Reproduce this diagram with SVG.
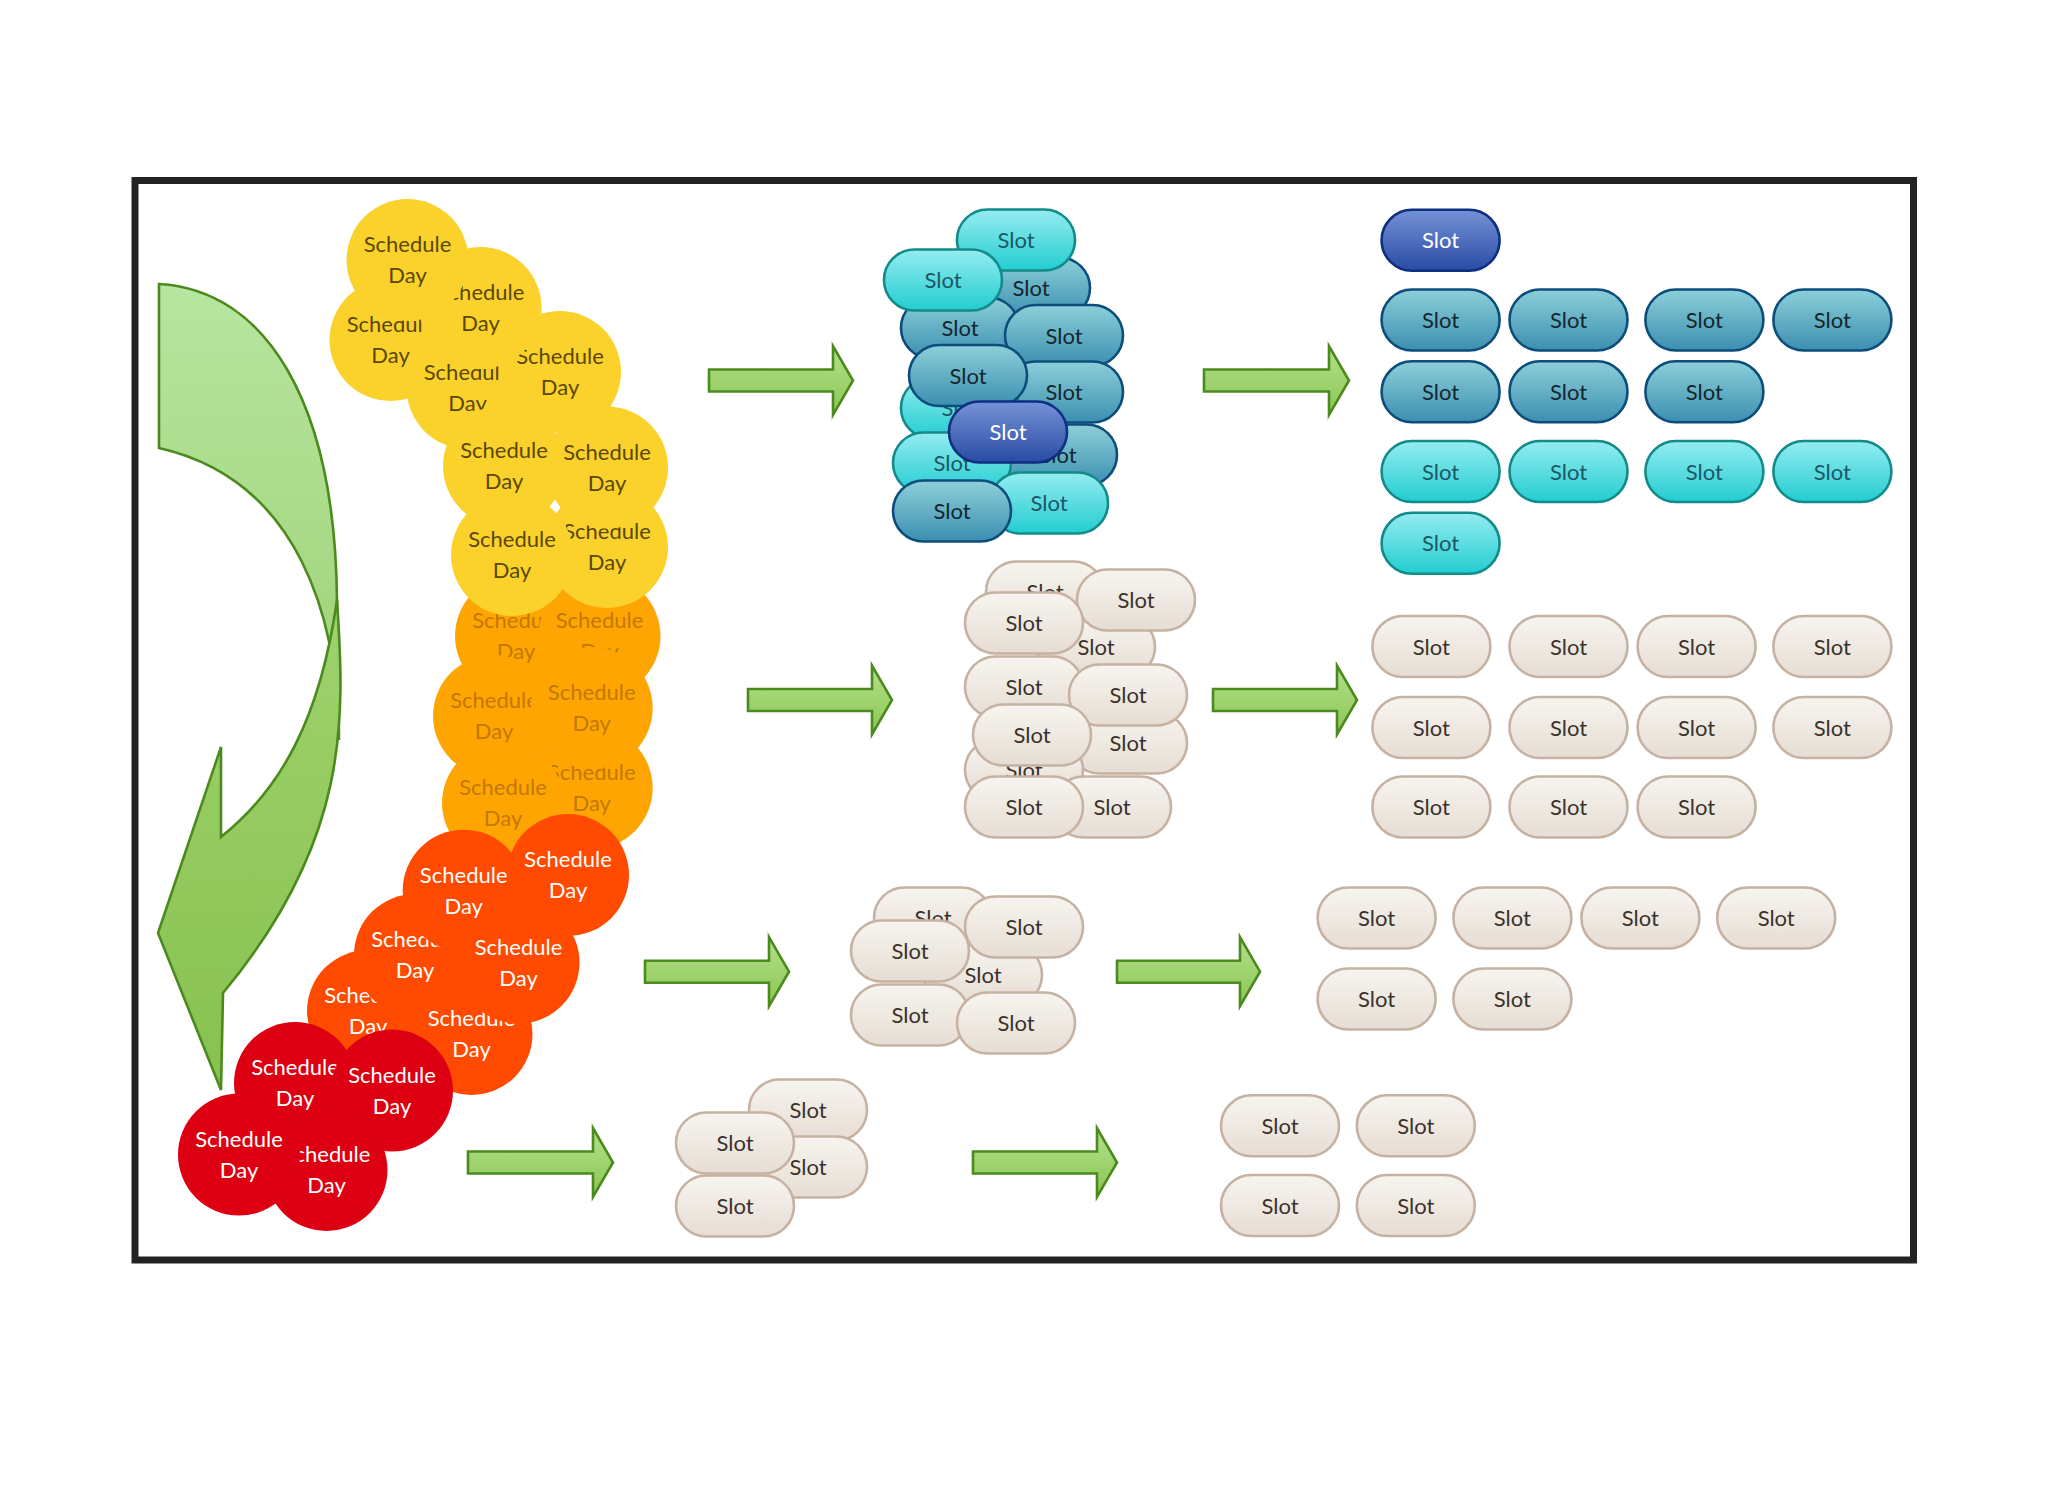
<svg xmlns="http://www.w3.org/2000/svg" width="2048" height="1492" viewBox="0 0 2048 1492">
<defs>
<linearGradient id="gTeal" x1="0" y1="0" x2="0" y2="1"><stop offset="0" stop-color="#8dcfd9"/><stop offset="1" stop-color="#3b8fb1"/></linearGradient>
<linearGradient id="gCyan" x1="0" y1="0" x2="0" y2="1"><stop offset="0" stop-color="#95ecf0"/><stop offset="1" stop-color="#22cdd1"/></linearGradient>
<linearGradient id="gBlue" x1="0" y1="0" x2="0" y2="1"><stop offset="0" stop-color="#7592d6"/><stop offset="1" stop-color="#2a4ba4"/></linearGradient>
<linearGradient id="gBeige" x1="0" y1="0" x2="0" y2="1"><stop offset="0" stop-color="#f7f4ef"/><stop offset="1" stop-color="#e6ddd4"/></linearGradient>
<linearGradient id="gArrow" x1="0" y1="0" x2="0" y2="1"><stop offset="0" stop-color="#b2e08c"/><stop offset="1" stop-color="#8cc653"/></linearGradient>
<linearGradient id="gBandA" x1="0" y1="0" x2="0" y2="1"><stop offset="0" stop-color="#b8e5a0"/><stop offset="1" stop-color="#9dd174"/></linearGradient>
<linearGradient id="gBandB" x1="0" y1="0" x2="0" y2="1"><stop offset="0" stop-color="#9fd26e"/><stop offset="1" stop-color="#88c14f"/></linearGradient>
</defs>
<style>
text{font-family:Lato,"Open Sans","Liberation Sans",sans-serif;text-anchor:middle}
.day text{font-size:22px}
.y circle{fill:#fbd22c}.y text{fill:#5b4700}
.o circle{fill:#ffa502}.o text{fill:#c27800}
.r circle{fill:#ff4a00}.r text{fill:#ffffff}
.d circle{fill:#dc0012}.d text{fill:#ffffff}
.slot rect{stroke-width:2.6}
.slot text{font-size:22px}
.teal rect{fill:url(#gTeal);stroke:#0c4d7c}.teal text{fill:#14262e}
.cyan rect{fill:url(#gCyan);stroke:#138b8b}.cyan text{fill:#1b5866}
.blue rect{fill:url(#gBlue);stroke:#0e2f80}.blue text{fill:#ffffff}
.beige rect{fill:url(#gBeige);stroke:#c6b2a2}.beige text{fill:#3a332d}
.arr{fill:url(#gArrow);stroke:#4b8a1c;stroke-width:2.6;stroke-linejoin:miter}
</style>
<rect x="0" y="0" width="2048" height="1492" fill="#ffffff"/>
<rect id="frame" x="135" y="180.5" width="1778.5" height="1079.5" fill="#ffffff" stroke="#222222" stroke-width="7"/>

<g id="connectors">
<path d="M159,284 C265,290 335,400 337,600 L339,740 C338,620 300,480 159,448 Z" fill="url(#gBandA)" stroke="#4b8a1c" stroke-width="2.6"/>
<path d="M337,600 C345,720 350,840 223,993 L221,1090 L158,933 L221,747 L221,837 C280,790 320,720 337,600 Z" fill="url(#gBandB)" stroke="#4b8a1c" stroke-width="2.6"/>
<path class="arr" d="M709,369.5 L833,369.5 L833,346 L853,380.5 L833,415 L833,391.5 L709,391.5 Z"/>
<path class="arr" d="M1204,369.5 L1329,369.5 L1329,346 L1349,380.5 L1329,415 L1329,391.5 L1204,391.5 Z"/>
<path class="arr" d="M748,689 L872,689 L872,665.5 L892,700 L872,734.5 L872,711 L748,711 Z"/>
<path class="arr" d="M1213,689 L1337,689 L1337,665.5 L1357,700 L1337,734.5 L1337,711 L1213,711 Z"/>
<path class="arr" d="M645,960.7 L769,960.7 L769,937.2 L789,971.7 L769,1006.2 L769,982.7 L645,982.7 Z"/>
<path class="arr" d="M1117,960.7 L1240,960.7 L1240,937.2 L1260,971.7 L1240,1006.2 L1240,982.7 L1117,982.7 Z"/>
<path class="arr" d="M468,1151.5 L593,1151.5 L593,1128 L613,1162.5 L593,1197 L593,1173.5 L468,1173.5 Z"/>
<path class="arr" d="M973,1151.5 L1097,1151.5 L1097,1128 L1117,1162.5 L1097,1197 L1097,1173.5 L973,1173.5 Z"/>
</g>

<g id="orange-days" class="day o">
<g id="o1"><circle cx="516" cy="636" r="61"/><text x="516" y="628">Schedule</text><text x="516" y="659">Day</text></g>
<g id="o2"><circle cx="599.5" cy="636" r="61"/><text x="599.5" y="628">Schedule</text><text x="599.5" y="659">Day</text></g>
<g id="o3"><circle cx="494" cy="716" r="61"/><text x="494" y="708">Schedule</text><text x="494" y="739">Day</text></g>
<g id="o6"><circle cx="591.7" cy="788" r="61"/><text x="591.7" y="780">Schedule</text><text x="591.7" y="811">Day</text></g>
<g id="o4"><circle cx="591.7" cy="708" r="61"/><text x="591.7" y="700">Schedule</text><text x="591.7" y="731">Day</text></g>
<g id="o5"><circle cx="503" cy="803" r="61"/><text x="503" y="795">Schedule</text><text x="503" y="826">Day</text></g>
</g>

<g id="yellow-days" class="day y">
<g id="y3"><circle cx="390.5" cy="340" r="61"/><text x="390.5" y="332">Schedule</text><text x="390.5" y="363">Day</text></g>
<g id="y4"><circle cx="467.6" cy="388" r="61"/><text x="467.6" y="380">Schedule</text><text x="467.6" y="411">Day</text></g>
<g id="y5"><circle cx="560" cy="372" r="61"/><text x="560" y="364">Schedule</text><text x="560" y="395">Day</text></g>
<g id="y2"><circle cx="480.6" cy="308" r="61"/><text x="480.6" y="300">Schedule</text><text x="480.6" y="331">Day</text></g>
<g id="y1"><circle cx="407.5" cy="260" r="61"/><text x="407.5" y="252">Schedule</text><text x="407.5" y="283">Day</text></g>
<g id="y6"><circle cx="504" cy="466" r="61"/><text x="504" y="458">Schedule</text><text x="504" y="489">Day</text></g>
<g id="y9"><circle cx="607" cy="547" r="61"/><text x="607" y="539">Schedule</text><text x="607" y="570">Day</text></g>
<g id="y7"><circle cx="607" cy="467.6" r="61"/><text x="607" y="460">Schedule</text><text x="607" y="491">Day</text></g>
<g id="y8"><circle cx="512" cy="555" r="61"/><text x="512" y="547">Schedule</text><text x="512" y="578">Day</text></g>
</g>

<g id="orangered-days" class="day r">
<g id="r5"><circle cx="368" cy="1011" r="61"/><text x="368" y="1003">Schedule</text><text x="368" y="1034">Day</text></g>
<g id="r3"><circle cx="415" cy="955" r="61"/><text x="415" y="947">Schedule</text><text x="415" y="978">Day</text></g>
<g id="r6"><circle cx="471.5" cy="1034" r="61"/><text x="471.5" y="1026">Schedule</text><text x="471.5" y="1057">Day</text></g>
<g id="r2"><circle cx="568" cy="875" r="61"/><text x="568" y="867">Schedule</text><text x="568" y="898">Day</text></g>
<g id="r1"><circle cx="463.7" cy="890.7" r="61"/><text x="463.7" y="883">Schedule</text><text x="463.7" y="914">Day</text></g>
<g id="r4"><circle cx="518.5" cy="962.6" r="61"/><text x="518.5" y="955">Schedule</text><text x="518.5" y="986">Day</text></g>
</g>

<g id="red-days" class="day d">
<g id="d1"><circle cx="295" cy="1083" r="61"/><text x="295" y="1075">Schedule</text><text x="295" y="1106">Day</text></g>
<g id="d2"><circle cx="392" cy="1090.6" r="61"/><text x="392" y="1083">Schedule</text><text x="392" y="1114">Day</text></g>
<g id="d4"><circle cx="326.5" cy="1170" r="61"/><text x="326.5" y="1162">Schedule</text><text x="326.5" y="1193">Day</text></g>
<g id="d3"><circle cx="239" cy="1154.6" r="61"/><text x="239" y="1147">Schedule</text><text x="239" y="1178">Day</text></g>
</g>

<g id="stack1" class="slot">
<g id="s1b" class="teal"><rect x="972" y="257.5" width="118" height="61" rx="30.5"/><text x="1031" y="296">Slot</text></g>
<g id="s1a" class="cyan"><rect x="957" y="209.5" width="118" height="61" rx="30.5"/><text x="1016" y="248">Slot</text></g>
<g id="s1d" class="teal"><rect x="901" y="297.5" width="118" height="61" rx="30.5"/><text x="960" y="336">Slot</text></g>
<g id="s1c" class="cyan"><rect x="884" y="249.5" width="118" height="61" rx="30.5"/><text x="943" y="288">Slot</text></g>
<g id="s1e" class="teal"><rect x="1005" y="305" width="118" height="61" rx="30.5"/><text x="1064" y="343.5">Slot</text></g>
<g id="s1g" class="teal"><rect x="1005" y="361.5" width="118" height="61" rx="30.5"/><text x="1064" y="400">Slot</text></g>
<g id="s1j" class="teal"><rect x="999" y="424.5" width="118" height="61" rx="30.5"/><text x="1058" y="463">Slot</text></g>
<g id="s1h" class="cyan"><rect x="901" y="377.5" width="118" height="61" rx="30.5"/><text x="960" y="416">Slot</text></g>
<g id="s1f" class="teal"><rect x="909" y="345" width="118" height="61" rx="30.5"/><text x="968" y="383.5">Slot</text></g>
<g id="s1k" class="cyan"><rect x="893" y="432.5" width="118" height="61" rx="30.5"/><text x="952" y="471">Slot</text></g>
<g id="s1l" class="cyan"><rect x="990" y="472.5" width="118" height="61" rx="30.5"/><text x="1049" y="511">Slot</text></g>
<g id="s1i" class="blue"><rect x="949" y="401.5" width="118" height="61" rx="30.5"/><text x="1008" y="440">Slot</text></g>
<g id="s1m" class="teal"><rect x="893" y="480.5" width="118" height="61" rx="30.5"/><text x="952" y="519">Slot</text></g>
</g>

<g id="stack2" class="slot beige">
<g id="s2a"><rect x="986" y="561.5" width="118" height="61" rx="30.5"/><text x="1045" y="600">Slot</text></g>
<g id="s2d"><rect x="1037" y="616.5" width="118" height="61" rx="30.5"/><text x="1096" y="655">Slot</text></g>
<g id="s2b"><rect x="1077" y="569.5" width="118" height="61" rx="30.5"/><text x="1136" y="608">Slot</text></g>
<g id="s2c"><rect x="965" y="592.5" width="118" height="61" rx="30.5"/><text x="1024" y="631">Slot</text></g>
<g id="s2e"><rect x="965" y="656.5" width="118" height="61" rx="30.5"/><text x="1024" y="695">Slot</text></g>
<g id="s2h"><rect x="1069" y="712.5" width="118" height="61" rx="30.5"/><text x="1128" y="751">Slot</text></g>
<g id="s2f"><rect x="1069" y="664.5" width="118" height="61" rx="30.5"/><text x="1128" y="703">Slot</text></g>
<g id="s2i"><rect x="965" y="739.5" width="118" height="61" rx="30.5"/><text x="1024" y="778">Slot</text></g>
<g id="s2g"><rect x="973" y="704.5" width="118" height="61" rx="30.5"/><text x="1032" y="743">Slot</text></g>
<g id="s2k"><rect x="1053" y="776.5" width="118" height="61" rx="30.5"/><text x="1112" y="815">Slot</text></g>
<g id="s2j"><rect x="965" y="776.5" width="118" height="61" rx="30.5"/><text x="1024" y="815">Slot</text></g>
</g>

<g id="stack3" class="slot beige">
<g id="s3a"><rect x="874" y="887.5" width="118" height="61" rx="30.5"/><text x="933" y="926">Slot</text></g>
<g id="s3d"><rect x="924" y="944.5" width="118" height="61" rx="30.5"/><text x="983" y="983">Slot</text></g>
<g id="s3b"><rect x="965" y="896.5" width="118" height="61" rx="30.5"/><text x="1024" y="935">Slot</text></g>
<g id="s3c"><rect x="851" y="920.5" width="118" height="61" rx="30.5"/><text x="910" y="959">Slot</text></g>
<g id="s3e"><rect x="851" y="984.5" width="118" height="61" rx="30.5"/><text x="910" y="1023">Slot</text></g>
<g id="s3f"><rect x="957" y="992.5" width="118" height="61" rx="30.5"/><text x="1016" y="1031">Slot</text></g>
</g>

<g id="stack4" class="slot beige">
<g id="s4a"><rect x="749" y="1079.5" width="118" height="61" rx="30.5"/><text x="808" y="1118">Slot</text></g>
<g id="s4c"><rect x="749" y="1136.5" width="118" height="61" rx="30.5"/><text x="808" y="1175">Slot</text></g>
<g id="s4b"><rect x="676" y="1112.5" width="118" height="61" rx="30.5"/><text x="735" y="1151">Slot</text></g>
<g id="s4d"><rect x="676" y="1175.5" width="118" height="61" rx="30.5"/><text x="735" y="1214">Slot</text></g>
</g>

<g id="grid1" class="slot">
<g id="g1-blue" class="blue"><rect x="1381.6" y="209.8" width="118" height="61" rx="30.5"/><text x="1440.6" y="248.3">Slot</text></g>
<g id="g1-t1" class="teal"><rect x="1381.6" y="289.5" width="118" height="61" rx="30.5"/><text x="1440.6" y="328">Slot</text></g>
<g id="g1-t2" class="teal"><rect x="1509.5" y="289.5" width="118" height="61" rx="30.5"/><text x="1568.5" y="328">Slot</text></g>
<g id="g1-t3" class="teal"><rect x="1645.4" y="289.5" width="118" height="61" rx="30.5"/><text x="1704.4" y="328">Slot</text></g>
<g id="g1-t4" class="teal"><rect x="1773.4" y="289.5" width="118" height="61" rx="30.5"/><text x="1832.4" y="328">Slot</text></g>
<g id="g1-t5" class="teal"><rect x="1381.6" y="361.3" width="118" height="61" rx="30.5"/><text x="1440.6" y="399.8">Slot</text></g>
<g id="g1-t6" class="teal"><rect x="1509.5" y="361.3" width="118" height="61" rx="30.5"/><text x="1568.5" y="399.8">Slot</text></g>
<g id="g1-t7" class="teal"><rect x="1645.4" y="361.3" width="118" height="61" rx="30.5"/><text x="1704.4" y="399.8">Slot</text></g>
<g id="g1-c1" class="cyan"><rect x="1381.6" y="441" width="118" height="61" rx="30.5"/><text x="1440.6" y="479.5">Slot</text></g>
<g id="g1-c2" class="cyan"><rect x="1509.5" y="441" width="118" height="61" rx="30.5"/><text x="1568.5" y="479.5">Slot</text></g>
<g id="g1-c3" class="cyan"><rect x="1645.4" y="441" width="118" height="61" rx="30.5"/><text x="1704.4" y="479.5">Slot</text></g>
<g id="g1-c4" class="cyan"><rect x="1773.4" y="441" width="118" height="61" rx="30.5"/><text x="1832.4" y="479.5">Slot</text></g>
<g id="g1-c5" class="cyan"><rect x="1381.6" y="512.8" width="118" height="61" rx="30.5"/><text x="1440.6" y="551.3">Slot</text></g>
</g>

<g id="grid2" class="slot beige">
<g id="g2-1"><rect x="1372.4" y="616" width="118" height="61" rx="30.5"/><text x="1431.4" y="654.5">Slot</text></g>
<g id="g2-2"><rect x="1509.5" y="616" width="118" height="61" rx="30.5"/><text x="1568.5" y="654.5">Slot</text></g>
<g id="g2-3"><rect x="1637.6" y="616" width="118" height="61" rx="30.5"/><text x="1696.6" y="654.5">Slot</text></g>
<g id="g2-4"><rect x="1773.4" y="616" width="118" height="61" rx="30.5"/><text x="1832.4" y="654.5">Slot</text></g>
<g id="g2-5"><rect x="1372.4" y="697" width="118" height="61" rx="30.5"/><text x="1431.4" y="735.5">Slot</text></g>
<g id="g2-6"><rect x="1509.5" y="697" width="118" height="61" rx="30.5"/><text x="1568.5" y="735.5">Slot</text></g>
<g id="g2-7"><rect x="1637.6" y="697" width="118" height="61" rx="30.5"/><text x="1696.6" y="735.5">Slot</text></g>
<g id="g2-8"><rect x="1773.4" y="697" width="118" height="61" rx="30.5"/><text x="1832.4" y="735.5">Slot</text></g>
<g id="g2-9"><rect x="1372.4" y="776.5" width="118" height="61" rx="30.5"/><text x="1431.4" y="815">Slot</text></g>
<g id="g2-10"><rect x="1509.5" y="776.5" width="118" height="61" rx="30.5"/><text x="1568.5" y="815">Slot</text></g>
<g id="g2-11"><rect x="1637.6" y="776.5" width="118" height="61" rx="30.5"/><text x="1696.6" y="815">Slot</text></g>
</g>

<g id="grid3" class="slot beige">
<g id="g3-1"><rect x="1317.6" y="887.5" width="118" height="61" rx="30.5"/><text x="1376.6" y="926">Slot</text></g>
<g id="g3-2"><rect x="1453.4" y="887.5" width="118" height="61" rx="30.5"/><text x="1512.4" y="926">Slot</text></g>
<g id="g3-3"><rect x="1581.4" y="887.5" width="118" height="61" rx="30.5"/><text x="1640.4" y="926">Slot</text></g>
<g id="g3-4"><rect x="1717.2" y="887.5" width="118" height="61" rx="30.5"/><text x="1776.2" y="926">Slot</text></g>
<g id="g3-5"><rect x="1317.6" y="968.5" width="118" height="61" rx="30.5"/><text x="1376.6" y="1007">Slot</text></g>
<g id="g3-6"><rect x="1453.4" y="968.5" width="118" height="61" rx="30.5"/><text x="1512.4" y="1007">Slot</text></g>
</g>

<g id="grid4" class="slot beige">
<g id="g4-1"><rect x="1221" y="1095.3" width="118" height="61" rx="30.5"/><text x="1280" y="1133.8">Slot</text></g>
<g id="g4-2"><rect x="1356.8" y="1095.3" width="118" height="61" rx="30.5"/><text x="1415.8" y="1133.8">Slot</text></g>
<g id="g4-3"><rect x="1221" y="1175" width="118" height="61" rx="30.5"/><text x="1280" y="1213.5">Slot</text></g>
<g id="g4-4"><rect x="1356.8" y="1175" width="118" height="61" rx="30.5"/><text x="1415.8" y="1213.5">Slot</text></g>
</g>
</svg>
